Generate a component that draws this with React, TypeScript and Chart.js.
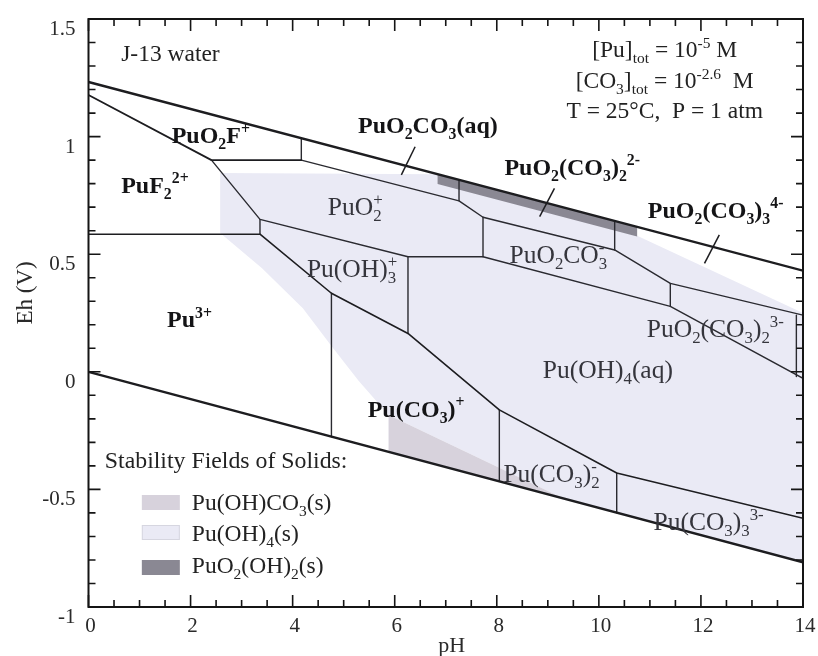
import React, { useEffect, useRef } from 'react';
import { Chart, registerables } from 'chart.js';

Chart.register(...registerables);

type Pt = [number, number];

// ---- Water stability limits (pH, Eh in V) ----
const upperWater: Pt[] = [[0, 1.232], [14, 0.43]];
const lowerWater: Pt[] = [[0, 0], [14, -0.81]];

// ---- Predominance boundaries ----
const fluorideEdge: Pt[] = [[0, 1.177], [2.41, 0.9], [4.17, 0.9]];
const plutonylUpper: Pt[] = [[4.17, 0.9], [7.26, 0.727], [7.73, 0.657], [10.31, 0.518], [11.4, 0.376], [14, 0.241]];
const plutonylLower: Pt[] = [[2.41, 0.9], [3.36, 0.648], [6.26, 0.489], [7.73, 0.489], [11.4, 0.278], [14, -0.028]];
const pu3Edge: Pt[] = [[0, 0.585], [3.36, 0.585], [4.76, 0.334], [6.26, 0.163], [8.05, -0.162], [10.35, -0.43], [14, -0.623]];
const verticalEdges: Pt[][] = [
  [[4.17, 0.9], [4.17, 0.993]],
  [[7.26, 0.727], [7.26, 0.816]],
  [[10.31, 0.518], [10.31, 0.641]],
  [[3.36, 0.648], [3.36, 0.585]],
  [[7.73, 0.657], [7.73, 0.489]],
  [[11.4, 0.376], [11.4, 0.278]],
  [[13.87, 0.241], [13.87, -0.02]],
  [[6.26, 0.489], [6.26, 0.163]],
  [[4.76, 0.334], [4.76, -0.276]],
  [[8.05, -0.162], [8.05, -0.466]],
  [[10.35, -0.43], [10.35, -0.599]],
];
// short leader marks pointing to the narrow carbonate fields
const leaderMarks: Pt[][] = [
  [[6.4, 0.957], [6.13, 0.837]],
  [[9.13, 0.78], [8.84, 0.66]],
  [[12.36, 0.582], [12.07, 0.461]],
];

// ---- Stability fields of solids ----
const puOH4Solid: Pt[] = [
  [2.58, 0.845], [6.84, 0.84], [10.75, 0.616], [10.75, 0.578], [14, 0.25], [14, -0.81],
  [9.3, -0.538], [5.88, -0.184], [5.3, -0.04], [4.76, 0.11], [4.2, 0.27], [3.4, 0.44], [2.58, 0.59],
];
const puOHCO3Solid: Pt[] = [[5.88, -0.184], [9.3, -0.538], [5.88, -0.34]];
const puO2OH2Solid: Pt[] = [[6.84, 0.84], [10.75, 0.616], [10.75, 0.575], [6.84, 0.798]];

const solidNames = ['Pu(OH)CO_{3}(s)', 'Pu(OH)_{4}(s)', 'PuO_{2}(OH)_{2}(s)'];
const solidColors = ['#d7d2dc', '#eaeaf5', '#8a8893'];

// ---- Axis ticks ----
const xTickValues = [0, 2, 4, 6, 8, 10, 12, 14];
const xTickLabels = ['0', '2', '4', '6', '8', '10', '12', '14'];
const yTickValues = [1.5, 1, 0.5, 0, -0.5, -1];
const yTickLabels = ['1.5', '1', '0.5', '0', '-0.5', '-1'];
const xMinorStep = 0.5;
const yMinorStep = 0.1;

// ---- Field names (pH, Eh anchor = left baseline) ----
const fieldLabels: { text: string; x: number; y: number; bold: boolean }[] = [
  { text: 'PuO_{2}F^{+}', x: 1.63, y: 0.972, bold: true },
  { text: 'PuF_{2}^{2+}', x: 0.64, y: 0.76, bold: true },
  { text: 'Pu^{3+}', x: 1.54, y: 0.19, bold: true },
  { text: 'PuO_{2}CO_{3}(aq)', x: 5.28, y: 1.015, bold: true },
  { text: 'PuO_{2}(CO_{3})_{2}^{2-}', x: 8.15, y: 0.837, bold: true },
  { text: 'PuO_{2}(CO_{3})_{3}^{4-}', x: 10.96, y: 0.654, bold: true },
  { text: 'Pu(CO_{3})^{+}', x: 5.47, y: -0.192, bold: true },
  { text: 'PuO_{2}~^{+}', x: 4.69, y: 0.667, bold: false },
  { text: 'Pu(OH)_{3}~^{+}', x: 4.28, y: 0.403, bold: false },
  { text: 'PuO_{2}CO_{3}~^{-}', x: 8.25, y: 0.463, bold: false },
  { text: 'PuO_{2}(CO_{3})_{2}^{3-}', x: 10.94, y: 0.148, bold: false },
  { text: 'Pu(OH)_{4}(aq)', x: 8.9, y: -0.026, bold: false },
  { text: 'Pu(CO_{3})_{2}~^{-}', x: 8.13, y: -0.468, bold: false },
  { text: 'Pu(CO_{3})_{3}^{3-}', x: 11.07, y: -0.672, bold: false },
];

const waterLabel = { text: 'J-13 water', x: 0.64, y: 1.322 };
const conditionLines = ['[Pu]_{tot} = 10^{-5} M', '[CO_{3}]_{tot} = 10^{-2.6}  M', 'T = 25°C,  P = 1 atm'];
const conditionAnchor = { x: 11.29, y: [1.338, 1.207, 1.079] };
const legendTitle = 'Stability Fields of Solids:';
const legendAnchor = { x: 0.32, y: -0.409 };

const FAMILY = "'Liberation Serif', 'Times New Roman', serif";

type Seg = { t: string; k: 'n' | 'sub' | 'sup'; stack: boolean };

function parseRich(s: string): Seg[] {
  const out: Seg[] = [];
  let buf = '';
  let i = 0;
  const flush = () => {
    if (buf) out.push({ t: buf, k: 'n', stack: false });
    buf = '';
  };
  while (i < s.length) {
    const c = s[i];
    const isMark = (c === '_' || c === '^') && s[i + 1] === '{';
    const isStack = c === '~' && s[i + 1] === '^' && s[i + 2] === '{';
    if (isMark || isStack) {
      flush();
      if (isStack) i++;
      const kind = s[i] === '_' ? 'sub' : 'sup';
      const end = s.indexOf('}', i + 2);
      out.push({ t: s.slice(i + 2, end), k: kind, stack: isStack });
      i = end + 1;
    } else {
      buf += c;
      i++;
    }
  }
  flush();
  return out;
}

function drawRich(
  ctx: CanvasRenderingContext2D,
  s: string,
  x: number,
  y: number,
  size: number,
  weight: string,
  align: 'left' | 'center' | 'right',
  color: string
) {
  const segs = parseRich(s);
  const small = size * 0.66;
  const font = (sz: number) => `${weight} ${sz}px ${FAMILY}`;
  let cx = 0;
  let subX = 0;
  let subW = 0;
  const placed: { t: string; px: number; dy: number; sz: number }[] = [];
  for (const g of segs) {
    const sz = g.k === 'n' ? size : small;
    ctx.font = font(sz);
    const w = ctx.measureText(g.t).width;
    let px = cx;
    if (g.k === 'sup' && g.stack) {
      px = subX;
      cx = Math.max(subX + subW, px + w);
    } else {
      cx = px + w;
    }
    if (g.k === 'sub') {
      subX = px;
      subW = w;
    }
    const dy = g.k === 'sub' ? size * 0.24 : g.k === 'sup' ? -size * 0.4 : 0;
    placed.push({ t: g.t, px, dy, sz });
  }
  const x0 = align === 'center' ? x - cx / 2 : align === 'right' ? x - cx : x;
  ctx.fillStyle = color;
  ctx.textAlign = 'left';
  ctx.textBaseline = 'alphabetic';
  for (const p of placed) {
    ctx.font = font(p.sz);
    ctx.fillText(p.t, x0 + p.px, y + p.dy);
  }
}

const toXY = (pts: Pt[]) => pts.map(([x, y]) => ({ x, y }));

const edgeSet = (pts: Pt[], width: number, color = '#1d1d20') => ({
  data: toXY(pts),
  showLine: true,
  fill: false,
  borderColor: color,
  borderWidth: width,
  borderCapStyle: 'round' as const,
  borderJoinStyle: 'round' as const,
  pointRadius: 0,
  pointHoverRadius: 0,
  order: 0,
});

const fieldSet = (pts: Pt[], color: string, order: number) => ({
  data: toXY(pts),
  showLine: true,
  fill: 'shape' as const,
  backgroundColor: color,
  borderColor: 'rgba(0,0,0,0)',
  borderWidth: 0,
  pointRadius: 0,
  pointHoverRadius: 0,
  order,
});

const decorPlugin = {
  id: 'pourbaixDecor',
  afterDraw(chart: Chart) {
    const ctx = chart.ctx;
    const xs = chart.scales.x;
    const ys = chart.scales.y;
    const a = chart.chartArea;
    ctx.save();

    // frame
    ctx.strokeStyle = '#151515';
    ctx.lineWidth = 2;
    ctx.strokeRect(a.left, a.top, a.right - a.left, a.bottom - a.top);

    // inward ticks on all four sides
    ctx.lineWidth = 1.6;
    const nx = Math.round((xs.max - xs.min) / xMinorStep);
    for (let i = 0; i <= nx; i++) {
      const v = xs.min + i * xMinorStep;
      const px = xs.getPixelForValue(v);
      const len = xTickValues.some((t) => Math.abs(t - v) < 1e-6) ? 12 : 7;
      ctx.beginPath();
      ctx.moveTo(px, a.bottom);
      ctx.lineTo(px, a.bottom - len);
      ctx.moveTo(px, a.top);
      ctx.lineTo(px, a.top + len);
      ctx.stroke();
    }
    const ny = Math.round((ys.max - ys.min) / yMinorStep);
    for (let i = 0; i <= ny; i++) {
      const v = ys.min + i * yMinorStep;
      const py = ys.getPixelForValue(v);
      const len = yTickValues.some((t) => Math.abs(t - v) < 1e-6) ? 12 : 7;
      ctx.beginPath();
      ctx.moveTo(a.left, py);
      ctx.lineTo(a.left + len, py);
      ctx.moveTo(a.right, py);
      ctx.lineTo(a.right - len, py);
      ctx.stroke();
    }

    // tick labels
    const tickColor = '#2a2a2a';
    xTickValues.forEach((v, i) => {
      drawRich(ctx, xTickLabels[i], xs.getPixelForValue(v) + 2, a.bottom + 25, 21, 'normal', 'center', tickColor);
    });
    yTickValues.forEach((v, i) => {
      drawRich(ctx, yTickLabels[i], a.left - 13, ys.getPixelForValue(v) + 16, 21, 'normal', 'right', tickColor);
    });

    // axis titles
    drawRich(ctx, 'pH', (a.left + a.right) / 2 + 6, a.bottom + 45, 22, 'normal', 'center', tickColor);
    ctx.save();
    ctx.translate(32, (a.top + a.bottom) / 2 - 20);
    ctx.rotate(-Math.PI / 2);
    drawRich(ctx, 'Eh (V)', 0, 0, 23, 'normal', 'center', tickColor);
    ctx.restore();

    // leader marks
    ctx.strokeStyle = '#1d1d20';
    ctx.lineWidth = 1.5;
    for (const seg of leaderMarks) {
      ctx.beginPath();
      ctx.moveTo(xs.getPixelForValue(seg[0][0]), ys.getPixelForValue(seg[0][1]));
      ctx.lineTo(xs.getPixelForValue(seg[1][0]), ys.getPixelForValue(seg[1][1]));
      ctx.stroke();
    }

    // field names
    for (const f of fieldLabels) {
      drawRich(
        ctx,
        f.text,
        xs.getPixelForValue(f.x),
        ys.getPixelForValue(f.y),
        f.bold ? 24 : 25.5,
        f.bold ? 'bold' : 'normal',
        'left',
        f.bold ? '#141416' : '#35353c'
      );
    }

    // header notes
    drawRich(ctx, waterLabel.text, xs.getPixelForValue(waterLabel.x), ys.getPixelForValue(waterLabel.y), 23.5, 'normal', 'left', '#222');
    conditionLines.forEach((line, i) => {
      drawRich(ctx, line, xs.getPixelForValue(conditionAnchor.x), ys.getPixelForValue(conditionAnchor.y[i]), 23.5, 'normal', 'center', '#222');
    });

    // legend of solid phases
    const lx = xs.getPixelForValue(legendAnchor.x);
    const ly = ys.getPixelForValue(legendAnchor.y);
    drawRich(ctx, legendTitle, lx, ly, 23.8, 'normal', 'left', '#222');
    const boxTops = [27, 57, 92];
    const textBase = [42, 73, 105];
    solidNames.forEach((name, i) => {
      ctx.fillStyle = solidColors[i];
      ctx.fillRect(lx + 37, ly + boxTops[i], 38, 15);
      if (i === 1) {
        ctx.strokeStyle = '#d6d6e0';
        ctx.lineWidth = 1;
        ctx.strokeRect(lx + 37.5, ly + boxTops[i] + 0.5, 37, 14);
      }
      drawRich(ctx, name, lx + 87, ly + textBase[i], 23.5, 'normal', 'left', '#222');
    });

    ctx.restore();
  },
};

export default function App() {
  const canvasRef = useRef<HTMLCanvasElement>(null);

  useEffect(() => {
    document.body.style.margin = '0';
    document.body.style.overflow = 'hidden';
    const canvas = canvasRef.current;
    if (!canvas) return;

    const datasets: any[] = [
      edgeSet(upperWater, 2.4),
      edgeSet(lowerWater, 2.4),
      edgeSet(fluorideEdge, 1.8),
      edgeSet(pu3Edge, 1.6),
      edgeSet(plutonylUpper, 1.4, '#2a2a30'),
      edgeSet(plutonylLower, 1.4, '#2a2a30'),
      ...verticalEdges.map((v) => edgeSet(v, 1.4, '#2a2a30')),
      fieldSet(puO2OH2Solid, solidColors[2], 1),
      fieldSet(puOHCO3Solid, solidColors[0], 2),
      fieldSet(puOH4Solid, solidColors[1], 3),
    ];

    const chart = new Chart(canvas, {
      type: 'scatter',
      data: { datasets },
      options: {
        animation: false,
        responsive: false,
        maintainAspectRatio: false,
        devicePixelRatio: 1,
        layout: { padding: { left: 88.5, right: 15, top: 19, bottom: 49 } },
        scales: {
          x: { type: 'linear', min: 0, max: 14, display: false },
          y: { type: 'linear', min: -1, max: 1.5, display: false },
        },
        plugins: {
          legend: { display: false },
          tooltip: { enabled: false },
        },
        events: [],
      },
      plugins: [decorPlugin],
    } as any);

    return () => chart.destroy();
  }, []);

  return (
    <div style={{ width: 818, height: 656, background: '#ffffff' }}>
      <canvas ref={canvasRef} width={818} height={656} style={{ display: 'block' }} />
    </div>
  );
}
